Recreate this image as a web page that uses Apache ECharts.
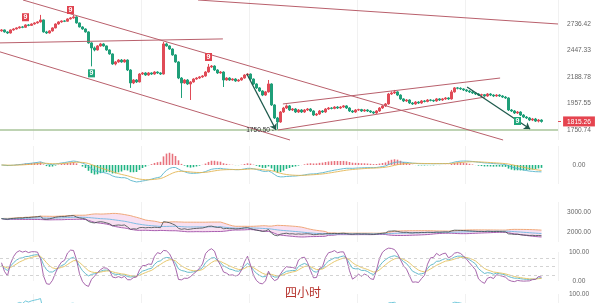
<!DOCTYPE html>
<html><head><meta charset="utf-8">
<script src="https://cdn.jsdelivr.net/npm/echarts@6/dist/echarts.min.js"></script>
<style>html,body{margin:0;padding:0;background:#fff}#c{width:600px;height:303px}</style>
</head><body><div id="c"></div>
<script>
// ---- data ----
// candles: [open, close, low, high]
const candles = [
[2660,2670,2650,2680],[2670,2648,2640,2675],[2648,2636,2625,2655],[2636,2670,2630,2676],[2670,2681,2662,2690],
[2681,2693,2675,2700],[2693,2704,2686,2712],[2704,2700,2690,2715],[2700,2727,2695,2735],[2727,2722,2712,2738],
[2722,2738,2715,2745],[2738,2750,2730,2758],[2750,2762,2742,2770],[2762,2785,2755,2845],[2785,2648,2640,2790],
[2648,2636,2625,2660],[2636,2659,2630,2668],[2659,2693,2652,2700],[2693,2738,2688,2745],[2738,2762,2730,2770],
[2762,2773,2752,2780],[2773,2770,2760,2782],[2770,2797,2765,2805],[2797,2809,2790,2820],[2809,2821,2800,2845],
[2821,2750,2742,2828],[2750,2704,2698,2755],[2704,2681,2672,2712],[2681,2648,2640,2688],[2648,2528,2520,2655],
[2528,2475,2290,2535],[2475,2454,2440,2490],[2454,2496,2448,2505],[2496,2517,2488,2528],[2517,2496,2488,2525],
[2496,2454,2445,2500],[2454,2413,2405,2460],[2413,2313,2305,2418],[2313,2333,2300,2342],[2333,2352,2325,2360],
[2352,2333,2325,2362],[2333,2352,2326,2360],[2352,2255,2245,2358],[2255,2135,2091,2262],[2135,2162,2125,2170],
[2162,2144,2135,2170],[2144,2217,2140,2225],[2217,2227,2208,2236],[2227,2208,2200,2234],[2208,2227,2200,2236],
[2227,2217,2208,2233],[2217,2236,2210,2244],[2236,2227,2218,2242],[2227,2217,2208,2234],[2217,2517,2212,2538],
[2517,2496,2488,2530],[2496,2464,2455,2502],[2464,2403,2395,2470],[2403,2333,2325,2410],[2333,2180,2170,2340],
[2180,2135,2004,2188],[2135,2162,2128,2170],[2162,2126,2118,2170],[2126,2144,1987,2152],[2144,2171,2138,2178],
[2171,2180,2164,2188],[2180,2190,2172,2198],[2190,2199,2182,2207],[2199,2236,2192,2244],[2236,2284,2230,2313],
[2284,2293,2275,2303],[2293,2255,2246,2300],[2255,2227,2218,2262],[2227,2236,2220,2245],[2236,2162,2099,2242],
[2162,2180,2155,2188],[2180,2162,2154,2187],[2162,2171,2155,2178],[2171,2153,2145,2178],[2153,2162,2146,2170],
[2162,2180,2156,2188],[2180,2208,2174,2215],[2208,2217,2200,2225],[2217,2171,2163,2222],[2171,2126,2118,2176],
[2126,2091,2082,2132],[2091,2064,2056,2098],[2064,2029,2020,2070],[2029,2056,2022,2064],[2056,2126,2050,2162],
[2126,1946,1938,2132],[1946,1842,1834,1952],[1842,1811,1750.5,1850],[1811,1889,1805,1897],[1889,1921,1882,1930],
[1921,1938,1913,1950],[1938,1905,1897,1945],[1905,1913,1897,1921],[1913,1889,1881,1920],[1889,1905,1881,1913],
[1905,1889,1881,1912],[1889,1905,1882,1913],[1905,1913,1897,1921],[1913,1897,1889,1920],[1897,1865,1857,1903],
[1865,1873,1857,1881],[1873,1897,1866,1905],[1897,1889,1881,1904],[1889,1913,1882,1920],[1913,1921,1906,1929],
[1921,1918,1910,1928],[1918,1929,1911,1936],[1929,1921,1913,1936],[1921,1929,1914,1936],[1929,1938,1922,1945],
[1938,1921,1913,1944],[1921,1897,1889,1927],[1897,1889,1881,1904],[1889,1905,1882,1912],[1905,1908,1898,1915],
[1908,1897,1889,1914],[1897,1905,1890,1912],[1905,1897,1889,1911],[1897,1889,1881,1903],[1889,1881,1873,1895],
[1881,1897,1874,1904],[1897,1921,1890,1928],[1921,1938,1914,1945],[1938,1954,1930,1962],[1954,2038,1948,2047],
[2038,2047,2030,2060],[2047,2056,2038,2073],[2056,2029,2020,2062],[2029,1996,1988,2035],[1996,1979,1970,2002],
[1979,1987,1970,1995],[1987,1962,1954,1993],[1962,1954,1946,1970],[1954,1970,1947,1978],[1970,1962,1954,1977],
[1962,1979,1955,1987],[1979,1975,1967,1986],[1975,1987,1968,1995],[1987,1984,1976,1994],[1984,1979,1970,1990],
[1979,1996,1972,2004],[1996,1987,1979,2003],[1987,1996,1980,2004],[1996,2004,1988,2012],[2004,1996,1988,2010],
[1996,2056,1990,2073],[2056,2091,2050,2099],[2091,2088,2078,2099],[2088,2082,2073,2096],[2082,2073,2064,2088],
[2073,2064,2056,2080],[2064,2056,2047,2071],[2056,2047,2038,2062],[2047,2038,2029,2054],[2038,2029,2021,2045],
[2029,2032,2020,2040],[2032,2021,2012,2038],[2021,2038,2014,2046],[2038,2029,2020,2045],[2029,2021,2012,2036],
[2021,2029,2014,2037],[2029,2021,2013,2036],[2021,2012,2004,2028],[2012,2004,1996,2020],[2004,1905,1897,2010],
[1905,1897,1889,1913],[1897,1881,1873,1904],[1881,1889,1873,1897],[1889,1865,1857,1895],[1865,1849,1842,1872],
[1849,1842,1834,1857],[1842,1826,1818,1849],[1826,1834,1818,1842],[1834,1818,1811,1842],[1818,1826,1808,1834],
[1826,1815.26,1806,1832]
];
const categories = Array.from({length: 186}, (_, i) => 'K' + (i + 1));
const priceTicks = [1750.74, 1957.55, 2188.78, 2447.33, 2736.42];
const lastPrice = 1815.26;
const supportLevel = 1750.5;
const lowMark = [92, 1750.5, '1750.50'];
const nineUp = [8, 23, 69];
const nineDown = [30, 172];
// trend lines: [[barIndex, price], [barIndex, price]]
const trendLines = [
  [[7.17, 3029.5], [167.2, 1678.5]],
  [[-0.5, 2434], [96.17, 1678.5]],
  [[-0.5, 2528], [73.8, 2571]],
  [[65.5, 3029.5], [185.5, 2738]],
  [[93.8, 1954], [166.2, 2180]],
  [[92.2, 1751], [161.2, 2012]]
];
const arrows = [
  [[81.8, 2217], [91.5, 1751]],
  [[155.2, 2099], [176.2, 1758]]
];
const macdTicks = [0];
const bandTicks = [2000, 3000];
const kdjTicks = [0, 100];
const lowerTicks = [100];
const periodText = '四小时';

// ---- indicators derived from the candles ----
const closes = candles.map(c => c[1]);
const lows = candles.map(c => c[2]);
const highs = candles.map(c => c[3]);
function ema(a, n) { const k = 2 / (n + 1); let p = a[0]; return a.map((v, i) => (p = i === 0 ? v : p + k * (v - p))); }
const e12 = ema(closes, 12), e26 = ema(closes, 26);
const dif = closes.map((_, i) => e12[i] - e26[i]);
const dea = ema(dif, 9);
const hist = dif.map((d, i) => 2 * (d - dea[i]));
const lineExtent = Math.max(...dif.map(Math.abs), ...dea.map(Math.abs)) * 1.12;
const mid = [], upB = [], loB = [], bandW = [];
closes.forEach((_, i) => {
  const w = closes.slice(Math.max(0, i - 19), i + 1);
  const m = w.reduce((s, v) => s + v, 0) / w.length;
  const sd = Math.sqrt(w.reduce((s, v) => s + (v - m) * (v - m), 0) / w.length);
  mid.push(m); upB.push(m + 2 * sd); loB.push(m - 2 * sd); bandW.push(4 * sd);
});
const kA = [], dA = [], jA = [];
let K = 50, D = 50;
closes.forEach((c, i) => {
  const s = Math.max(0, i - 8);
  const hh = Math.max(...highs.slice(s, i + 1)), ll = Math.min(...lows.slice(s, i + 1));
  const rsv = hh === ll ? 50 : (c - ll) / (hh - ll) * 100;
  K = (2 * K + rsv) / 3; D = (2 * D + K) / 3;
  kA.push(K); dA.push(D); jA.push(3 * K - 2 * D);
});
const rsiA = [];
let au = 0, ad = 0;
closes.forEach((c, i) => {
  if (i === 0) { rsiA.push(50); return; }
  const d = c - closes[i - 1];
  au = (au * 13 + Math.max(d, 0)) / 14; ad = (ad * 13 + Math.max(-d, 0)) / 14;
  rsiA.push(ad === 0 ? 100 : 100 * au / (au + ad));
});

// ---- chart ----
const FONT = 'Liberation Sans, Arial, sans-serif';
const UP = '#e04b57', DOWN = '#1f9f79';
const labelBase = { color: '#666', fontSize: 6.6, align: 'center', margin: 21, fontFamily: FONT };
const catAxis = g => ({
  type: 'category', gridIndex: g, data: categories,
  axisLine: { show: false }, axisTick: { show: false }, axisLabel: { show: false },
  splitLine: { show: true, interval: i => (i - 11) % 36 === 0, lineStyle: { color: '#f1f1f1', width: 1 } }
});
const yBase = (g, extra) => Object.assign({
  type: 'value', gridIndex: g, position: 'right', scale: true,
  axisLine: { show: false }, axisTick: { show: false }, splitLine: { show: false }
}, extra);
const lnMin = Math.log(1678.5), lnMax = Math.log(3029.5);

const chart = echarts.init(document.getElementById('c'), null, { renderer: 'canvas' });
chart.setOption({
  animation: false,
  backgroundColor: '#fff',
  title: {
    text: periodText, left: 285, top: 286, padding: 0,
    textStyle: { color: '#b5302a', fontSize: 12, fontWeight: 'normal', fontFamily: 'Noto Sans CJK SC' }
  },
  grid: [
    { left: 0, right: 42, top: 0, height: 140, outerBoundsMode: 'none' },
    { left: 0, right: 42, top: 146, height: 38, outerBoundsMode: 'none' },
    { left: 0, right: 42, top: 202, height: 40, outerBoundsMode: 'none' },
    { left: 0, right: 42, top: 252, height: 29, outerBoundsMode: 'none' },
    { left: 0, right: 42, top: 294, height: 9, outerBoundsMode: 'none' }
  ],
  xAxis: [
    catAxis(0), catAxis(1), catAxis(2), catAxis(3), catAxis(4),
    { type: 'value', gridIndex: 0, min: -0.5, max: 185.5, show: false }
  ],
  yAxis: [
    { type: 'log', gridIndex: 0, min: 1678.5, max: 3029.5, show: false },
    yBase(0, {
      scale: false, min: lnMin, max: lnMax,
      axisTick: { show: true, customValues: [Math.log(lastPrice)], length: 3, lineStyle: { color: UP } },
      axisLabel: Object.assign({}, labelBase, {
        customValues: priceTicks.map(Math.log).concat([Math.log(lastPrice)]),
        formatter: v => {
          const p = Math.exp(v);
          return Math.abs(p - lastPrice) < 0.01 ? '{tag|' + p.toFixed(2) + '}' : p.toFixed(2);
        },
        rich: { tag: { backgroundColor: '#e5444f', color: '#fff', padding: [2, 4, 1, 4], fontSize: 6.6, fontFamily: FONT } }
      })
    }),
    yBase(1, {
      scale: false, min: -lineExtent, max: lineExtent,
      axisLabel: Object.assign({}, labelBase, { customValues: macdTicks, formatter: v => v.toFixed(2) })
    }),
    yBase(2, { scale: false, min: 1500, max: 3500,
      axisLabel: Object.assign({}, labelBase, { customValues: bandTicks, formatter: v => v.toFixed(2) }) }),
    yBase(3, { scale: false, min: 0, max: 100,
      axisLabel: Object.assign({}, labelBase, { customValues: kdjTicks, formatter: v => v.toFixed(2) }) }),
    yBase(4, { scale: false, min: 69, max: 100,
      axisLabel: Object.assign({}, labelBase, { customValues: lowerTicks, formatter: v => v.toFixed(2) }) })
  ],
  series: [
    {
      type: 'candlestick', xAxisIndex: 0, yAxisIndex: 0, data: candles, barWidth: 2,
      itemStyle: { color: UP, color0: DOWN, borderColor: UP, borderColor0: DOWN, borderWidth: 1 },
      markLine: {
        silent: true, symbol: ['none', 'none'], label: { show: false },
        lineStyle: { color: '#a9c59a', width: 1.6, type: 'solid' },
        data: [{ yAxis: supportLevel }]
      },
      markPoint: {
        silent: true,
        data: nineUp.map(i => ({
          coord: [i, candles[i][3]], symbol: 'rect', symbolSize: [7, 8], symbolOffset: [0, -7],
          itemStyle: { color: '#e0434f' },
          label: { show: true, position: 'inside', formatter: '9', color: '#fff', fontSize: 7, fontWeight: 'bold', fontFamily: FONT }
        })).concat(nineDown.map(i => ({
          coord: [i, candles[i][2]], symbol: 'rect', symbolSize: [7, 8], symbolOffset: [0, 7],
          itemStyle: { color: '#1fa67b' },
          label: { show: true, position: 'inside', formatter: '9', color: '#fff', fontSize: 7, fontWeight: 'bold', fontFamily: FONT }
        }))).concat([{
          coord: [lowMark[0], lowMark[1]], symbol: 'circle', symbolSize: 1, itemStyle: { color: 'rgba(0,0,0,0)' },
          label: { show: true, position: 'left', distance: 3, formatter: lowMark[2] + ' -', color: '#333', fontSize: 6.6, fontFamily: FONT }
        }])
      }
    },
    {
      type: 'line', xAxisIndex: 5, yAxisIndex: 0, data: [], showSymbol: false,
      markLine: {
        silent: true, label: { show: false }, animation: false,
        data: trendLines.map(l => [
          { coord: l[0], symbol: 'none', lineStyle: { color: '#b9606c', width: 1, type: 'solid' } },
          { coord: l[1], symbol: 'none' }
        ]).concat(arrows.map(a => [
          { coord: a[0], symbol: 'none', lineStyle: { color: '#1e5a4c', width: 1.3, type: 'solid' } },
          { coord: a[1], symbol: 'arrow', symbolSize: 6 }
        ]))
      }
    },
    // MACD
    { type: 'bar', xAxisIndex: 1, yAxisIndex: 2, data: hist, barWidth: 1.6,
      itemStyle: { color: p => (p.value >= 0 ? '#e8727d' : '#1fb483') } },
    { type: 'line', xAxisIndex: 1, yAxisIndex: 2, data: dif, showSymbol: false, lineStyle: { color: '#57b4cc', width: 0.9 } },
    { type: 'line', xAxisIndex: 1, yAxisIndex: 2, data: dea, showSymbol: false, lineStyle: { color: '#e3b654', width: 0.9 } },
    // price band panel
    { type: 'line', xAxisIndex: 2, yAxisIndex: 3, data: loB, stack: 'band', showSymbol: false, lineStyle: { color: '#a04fa8', width: 0.9 } },
    { type: 'line', xAxisIndex: 2, yAxisIndex: 3, data: bandW, stack: 'band', showSymbol: false, lineStyle: { opacity: 0 }, areaStyle: { color: '#f8e0f1', opacity: 1 } },
    { type: 'line', xAxisIndex: 2, yAxisIndex: 3, data: upB, showSymbol: false, lineStyle: { color: '#eea06c', width: 0.9 } },
    { type: 'line', xAxisIndex: 2, yAxisIndex: 3, data: mid, showSymbol: false, lineStyle: { color: '#71b8e2', width: 0.9 } },
    { type: 'line', xAxisIndex: 2, yAxisIndex: 3, data: closes, showSymbol: false, lineStyle: { color: '#3d4a4a', width: 0.8 } },
    // KDJ
    { type: 'line', xAxisIndex: 3, yAxisIndex: 4, data: kA, showSymbol: false, clip: false, lineStyle: { color: '#55b3c6', width: 0.9 },
      markLine: { silent: true, symbol: ['none', 'none'], label: { show: false },
        lineStyle: { color: '#c8c8c8', width: 0.8, type: [3, 3] },
        data: [{ yAxis: 20 }, { yAxis: 50 }, { yAxis: 80 }] } },
    { type: 'line', xAxisIndex: 3, yAxisIndex: 4, data: dA, showSymbol: false, clip: false, lineStyle: { color: '#e3c25e', width: 0.9 } },
    { type: 'line', xAxisIndex: 3, yAxisIndex: 4, data: jA, showSymbol: false, clip: false, lineStyle: { color: '#9d55a3', width: 0.9 } },
    // lower panel
    { type: 'line', xAxisIndex: 4, yAxisIndex: 5, data: rsiA, showSymbol: false, clip: true, lineStyle: { color: '#62c2d6', width: 0.9 } }
  ]
});
</script></body></html>
